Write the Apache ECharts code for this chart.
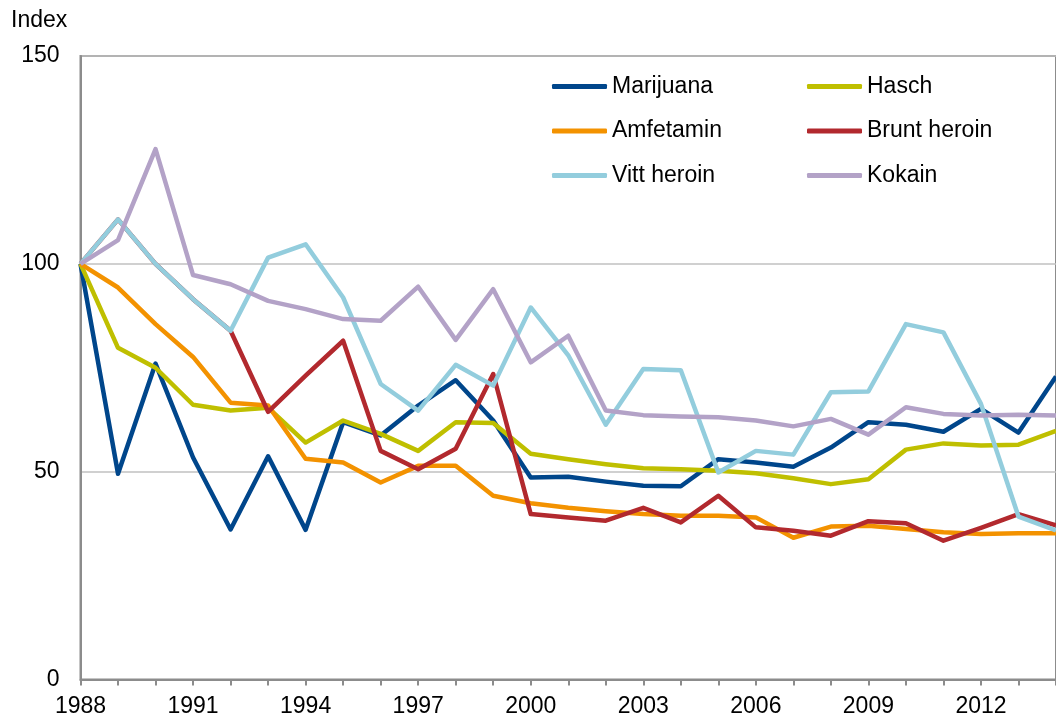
<!DOCTYPE html>
<html>
<head>
<meta charset="utf-8">
<script src="https://cdn.jsdelivr.net/npm/echarts@6/dist/echarts.min.js"></script>
<style>
html,body{margin:0;padding:0;background:#fff;}
#chart{width:1056px;height:720px;}
</style>
</head>
<body>
<div id="chart"></div>
<script>
var years = [];
for (var y = 1988; y <= 2014; y++) years.push(String(y));

var marijuana = [100, 49.5, 76.0, 53.4, 36.1, 53.7, 36.0, 61.9, 58.7, 65.9, 72.0, 62.3, 48.6, 48.8, 47.6, 46.6, 46.5, 53.0, 52.2, 51.2, 55.8, 61.9, 61.3, 59.6, 65.1, 59.4, 72.9];
var hasch     = [100, 79.8, 75.0, 66.1, 64.7, 65.4, 57.0, 62.3, 59.1, 55.0, 61.9, 61.7, 54.3, 53.0, 51.8, 50.8, 50.6, 50.2, 49.6, 48.4, 47.0, 48.2, 55.3, 56.8, 56.3, 56.5, 59.8];
var amfetamin = [100, 94.3, 85.5, 77.6, 66.6, 65.9, 53.1, 52.2, 47.4, 51.4, 51.4, 44.2, 42.4, 41.3, 40.5, 39.8, 39.4, 39.4, 39.0, 34.1, 36.8, 37.0, 36.2, 35.4, 35.0, 35.2, 35.2];
var bruntHeroin = [100, 110.7, 100, 91.5, 83.9, 64.4, 73.1, 81.5, 55.0, 50.6, 55.5, 73.5, 39.8, 39.0, 38.2, 41.3, 37.8, 44.2, 36.6, 35.8, 34.6, 38.1, 37.6, 33.4, 36.5, 39.8, 37.1];
var vittHeroin  = [100, 110.7, 100, 91.5, 83.9, 101.5, 104.7, 91.9, 71.1, 64.7, 75.7, 70.7, 89.5, 78.0, 61.3, 74.7, 74.4, 49.8, 55.0, 54.1, 69.1, 69.3, 85.5, 83.5, 66.3, 39.2, 35.9];
var kokain    = [100, 105.7, 127.6, 97.3, 95.1, 91.1, 89.1, 86.7, 86.3, 94.5, 81.7, 93.9, 76.3, 82.7, 64.7, 63.6, 63.3, 63.1, 62.3, 60.9, 62.7, 58.9, 65.5, 63.9, 63.5, 63.7, 63.5];

var seriesNames = ['Marijuana', 'Hasch', 'Amfetamin', 'Brunt heroin', 'Vitt heroin', 'Kokain'];
var seriesData = [marijuana, hasch, amfetamin, bruntHeroin, vittHeroin, kokain];
var colors = ['#00468B', '#BFBF00', '#F39200', '#B2292E', '#93CDDD', '#B3A2C7'];
var yTicks = [0, 50, 100, 150];

var FONT = '"Liberation Sans", Arial, sans-serif';
var chart = echarts.init(document.getElementById('chart'), null, {renderer: 'canvas'});

var legendCommon = {
  orient: 'vertical',
  top: 74.5,
  padding: 0,
  itemWidth: 55,
  itemHeight: 5,
  itemGap: 20.5,
  icon: 'roundRect',
  textStyle: {fontFamily: FONT, fontSize: 23, color: '#000', lineHeight: 24}
};

var option = {
  animation: false,
  backgroundColor: '#fff',
  color: colors,
  title: {
    text: 'Index',
    left: 11, top: 9, padding: 0,
    textStyle: {fontFamily: FONT, fontSize: 23, fontWeight: 'normal', color: '#000'}
  },
  legend: [
    Object.assign({}, legendCommon, {left: 552, data: ['Marijuana', 'Amfetamin', 'Vitt heroin']}),
    Object.assign({}, legendCommon, {left: 807, data: ['Hasch', 'Brunt heroin', 'Kokain']})
  ],
  grid: {
    left: 80.5, top: 56, bottom: 40.5, right: -9.9,
    show: true, borderColor: '#8c8c8c', borderWidth: 2, containLabel: false
  },
  xAxis: {
    type: 'category',
    data: years,
    boundaryGap: false,
    axisLine: {lineStyle: {color: '#8c8c8c', width: 2}},
    axisTick: {show: true, interval: 0, length: 6, lineStyle: {color: '#8c8c8c', width: 2}},
    axisLabel: {interval: 2, margin: 16, fontFamily: FONT, fontSize: 23, color: '#000'},
    splitLine: {show: false}
  },
  yAxis: {
    type: 'value',
    min: yTicks[0], max: yTicks[yTicks.length - 1], interval: 50,
    axisLine: {show: true, lineStyle: {color: '#8c8c8c', width: 2}},
    axisTick: {show: false},
    axisLabel: {margin: 21, fontFamily: FONT, fontSize: 23, color: '#000'},
    splitLine: {show: true, lineStyle: {color: '#c0c0c0', width: 1.5}}
  },
  series: seriesNames.map(function (name, i) {
    return {
      name: name,
      type: 'line',
      data: seriesData[i],
      showSymbol: false,
      symbol: 'none',
      z: 2 + i,
      lineStyle: {width: 4.5, color: colors[i], join: 'round'},
      itemStyle: {color: colors[i]}
    };
  })
};
chart.setOption(option);
</script>
</body>
</html>
